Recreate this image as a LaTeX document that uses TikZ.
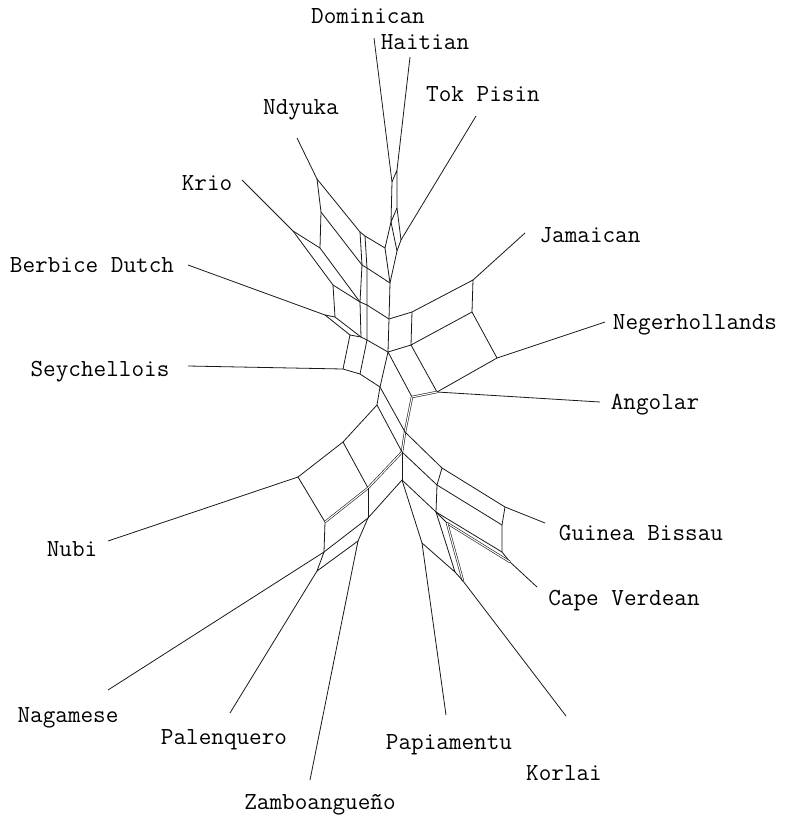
\documentclass[tikz,border=0pt]{standalone}
\begin{document}
\begin{tikzpicture}[x=1pt,y=-1pt,
  edge/.style={line width=0.8pt, black!90, line join=round},
  dbl/.style={line width=0.6pt, black!90, double=white, double distance=1.1pt},
  lab/.style={font=\fontsize{24.5}{24.5}\selectfont\ttfamily, inner sep=0pt}]
\useasboundingbox (0,0) rectangle (786,823);
% ---------- labels
\node[lab] (lDom) at (368,16) {Dominican};
\node[lab] (lHai) at (425,42) {Haitian};
\node[lab] (lTok) at (483,94) {Tok Pisin};
\node[lab] (lNdy) at (301,110) {Ndyuka};
\node[lab] (lKri) at (207,183) {Krio};
\node[lab] (lBer) at (92,265) {Berbice Dutch};
\node[lab] (lSey) at (100,372) {Seychellois};
\node[lab] (lJam) at (590,235) {Jamaican};
\node[lab] (lNeg) at (695,325) {Negerhollands};
\node[lab] (lAng) at (655,405) {Angolar};
\node[lab] (lGui) at (641,533) {Guinea Bissau};
\node[lab] (lCap) at (624,601) {Cape Verdean};
\node[lab] (lNub) at (72,549) {Nubi};
\node[lab] (lNag) at (68,718) {Nagamese};
\node[lab] (lPal) at (224,740) {Palenquero};
\node[lab] (lPap) at (449,745) {Papiamentu};
\node[lab] (lZam) at (320,805) {Zamboangueño};
\node[lab] (lKor) at (564,773) {Korlai};
% ---------- pendant ends
\coordinate (eDom) at (374,38);
\coordinate (eHai) at (410,57);
\coordinate (eTok) at (476,116);
\coordinate (eNdy) at (297,138);
\coordinate (eKri) at (242,180);
\coordinate (eBer) at (188,265);
\coordinate (eSey) at (188,366);
\coordinate (eJam) at (525,233);
\coordinate (eNeg) at (605,322);
\coordinate (eAng) at (600,402);
\coordinate (eGui) at (545,523);
\coordinate (eCap) at (537,587);
\coordinate (eNub) at (108,541);
\coordinate (eNag) at (108,690);
\coordinate (ePal) at (230,713);
\coordinate (ePap) at (446,715);
\coordinate (eZam) at (310,780);
\coordinate (eKor) at (566,716);
% ---------- internal vertices
\coordinate (D1) at (392,182); \coordinate (H1) at (397,170);
\coordinate (D2) at (391,222); \coordinate (H2) at (397,208);
\coordinate (T1) at (401,240); \coordinate (L1) at (385,248);
\coordinate (R1) at (397,251); \coordinate (S1) at (390,283);
\coordinate (S2) at (389,319); \coordinate (S3) at (388,352);
\coordinate (N1) at (317,179); \coordinate (N2) at (321,212);
\coordinate (N3) at (320,248); \coordinate (K1) at (293,231);
\coordinate (K2) at (333,285); \coordinate (B) at (335,317);
\coordinate (Bp) at (325,315); \coordinate (Sy1) at (350,335);
\coordinate (P1) at (360,232); \coordinate (P1r) at (365,236);
\coordinate (P2) at (362,265); \coordinate (P2r) at (367,268);
\coordinate (X) at (360,302); \coordinate (Xr) at (367,305);
\coordinate (Y) at (361,337); \coordinate (Yr) at (367,340);
\coordinate (Sey) at (343,369); \coordinate (Se2) at (360,374);
\coordinate (Se3) at (380,387);
\coordinate (J1) at (412,312); \coordinate (J2) at (473,280);
\coordinate (J3) at (472,312); \coordinate (J4) at (411,345);
\coordinate (Ng) at (497,358); \coordinate (A0) at (412,397);
\coordinate (A1) at (437,392);
\coordinate (V) at (377,405); \coordinate (Cx) at (405,432);
\coordinate (M) at (402,452); \coordinate (Nt) at (343,442);
\coordinate (Nl) at (298,477); \coordinate (Nb) at (325,522);
\coordinate (Nr) at (368,488); \coordinate (Q) at (324,552);
\coordinate (R) at (368,518); \coordinate (U) at (402,480);
\coordinate (Pl) at (317,571); \coordinate (Z) at (358,541);
\coordinate (G1a) at (442,468); \coordinate (G1b) at (505,507);
\coordinate (G2a) at (437,485); \coordinate (G2b) at (502,525);
\coordinate (G3a) at (436,512); \coordinate (G3b) at (502,552);
\coordinate (Cv) at (510,562); \coordinate (G4) at (447,523);
\coordinate (Pp) at (422,543); \coordinate (Kn) at (455,572);
\coordinate (Kr) at (463,581);
% ---------- pendant edges
\draw[edge] (eDom) -- (D1);
\draw[edge] (eHai) -- (H1);
\draw[edge] (eTok) -- (T1);
\draw[edge] (eNdy) -- (N1);
\draw[edge] (eKri) -- (K1);
\draw[edge] (eBer) -- (Bp);
\draw[edge] (eSey) -- (Sey);
\draw[edge] (eJam) -- (J2);
\draw[edge] (eNeg) -- (Ng);
\draw[edge] (eAng) -- (A1);
\draw[edge] (eGui) -- (G1b);
\draw[edge] (eCap) -- (Cv);
\draw[edge] (eNub) -- (Nl);
\draw[edge] (eNag) -- (Q);
\draw[edge] (ePal) -- (Pl);
\draw[edge] (ePap) -- (Pp);
\draw[edge] (eZam) -- (Z);
\draw[edge] (eKor) -- (Kr);
% ---------- top
\draw[edge] (D1) -- (H1) -- (H2) -- (D2) -- cycle;
\draw[edge] (H2) -- (T1) -- (R1) -- (D2);
\draw[edge] (D2) -- (L1) -- (S1) -- (R1);
\draw[edge] (S1) -- (S2) -- (S3);
% ---------- upper left
\draw[edge] (N1) -- (N2) -- (N3);
\draw[edge] (K1) -- (N3); \draw[edge] (K1) -- (K2) -- (B);
\draw[edge] (N1) -- (P1); \draw[edge] (N2) -- (P2);
\draw[edge] (N3) -- (X); \draw[edge] (K2) -- (X);
\draw[edge] (B) -- (Y); \draw[edge] (Bp) -- (B); \draw[edge] (Bp) -- (Sy1) -- (Y);
\draw[edge] (P1) -- (P2) -- (X) -- (Y);
\draw[edge] (P1r) -- (P2r) -- (Xr) -- (Yr);
\draw[edge] (P1) -- (P1r) -- (L1);
\draw[edge] (P2) -- (P2r) -- (S1);
\draw[edge] (X) -- (Xr) -- (S2);
\draw[edge] (Y) -- (Yr) -- (S3);
\draw[edge] (Sy1) -- (Sey) -- (Se2) -- (Se3);
\draw[edge] (Yr) -- (Se2);
\draw[edge] (S3) -- (Se3);
% ---------- upper right
\draw[edge] (S2) -- (J1) -- (J2) -- (J3) -- (J4) -- (J1);
\draw[edge] (S3) -- (J4) -- (A1) -- (Ng) -- (J3);
\draw[edge] (S3) -- (A0);
\draw[dbl] (A0) -- (A1);
% ---------- lower spine
\draw[dbl] (A0) -- (Cx) -- (M);
\draw[edge] (Se3) -- (V) -- (M);
\draw[edge] (Se3) -- (Cx);
\draw[edge] (V) -- (Nt) -- (Nl) -- (Nb);
\draw[edge] (Nt) -- (Nr);
\draw[dbl] (Nb) -- (Nr);
\draw[dbl] (Nr) -- (M);
\draw[edge] (Nb) -- (Q); \draw[edge] (Nr) -- (R); \draw[edge] (M) -- (U);
\draw[edge] (R) -- (U); \draw[edge] (Q) -- (R);
\draw[edge] (Q) -- (Pl) -- (Z) -- (R);
% ---------- lower right
\draw[edge] (Cx) -- (G1a) -- (G1b);
\draw[edge] (M) -- (G2a) -- (G2b);
\draw[edge] (U) -- (G3a) -- (G3b);
\draw[edge] (G1a) -- (G2a) -- (G3a);
\draw[edge] (G1b) -- (G2b) -- (G3b) -- (Cv);
\draw[edge] (G3a) -- (G4);
\draw[dbl] (G4) -- (Cv);
\draw[edge] (U) -- (Pp) -- (Kn) -- (G3a);
\draw[dbl] (G4) -- (Kr);
\draw[edge] (Kn) -- (Kr);
\end{tikzpicture}
\end{document}
